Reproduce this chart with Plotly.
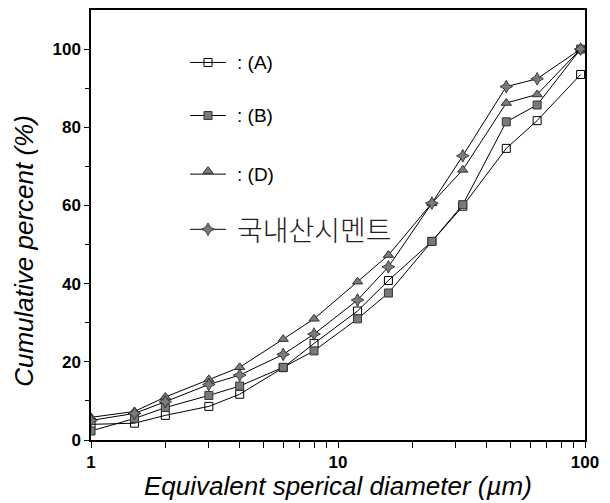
import plotly.graph_objects as go

# ---- data ----
diameter = [1, 1.5, 2, 3, 4, 6, 8, 12, 16, 24, 32, 48, 64, 96]
series_A = [4.0, 4.3, 6.3, 8.6, 11.7, 18.5, 24.7, 33.0, 40.8, 50.8, 59.8, 74.6, 81.7, 93.5]
series_B = [2.3, 5.5, 8.3, 11.4, 13.8, 18.6, 22.8, 31.0, 37.6, 50.8, 60.2, 81.4, 85.7, 100.0]
series_D = [5.8, 7.3, 11.0, 15.5, 18.6, 25.8, 31.0, 40.5, 47.3, 60.6, 69.1, 86.2, 88.4, 100.0]
series_K = [5.0, 6.8, 9.8, 14.2, 16.6, 21.9, 27.1, 35.8, 44.3, 60.6, 72.7, 90.4, 92.4, 100.0]
names = [": (A)", ": (B)", ": (D)", "국내산시멘트"]
y_ticks = [0, 20, 40, 60, 80, 100]
y_minor = [10, 30, 50, 70, 90]
x_ticks = [1, 10, 100]
x_minor = [2, 3, 4, 5, 6, 7, 8, 9, 20, 30, 40, 50, 60, 70, 80, 90]

GRAY = "#7a7a7a"
styles = [
    dict(symbol="square-open", size=8, color="black", line=dict(width=1, color="black")),
    dict(symbol="square", size=8, color=GRAY, line=dict(width=1, color="#333")),
    dict(symbol="triangle-up", size=9, color=GRAY, line=dict(width=1, color="#333")),
    dict(symbol="star-diamond", size=9, color=GRAY, line=dict(width=1, color="#333")),
]

fig = go.Figure()
for ys, st, nm in zip([series_A, series_B, series_D, series_K], styles, names):
    fig.add_trace(go.Scatter(x=diameter, y=ys, mode="lines+markers", name=nm,
                             line=dict(color="black", width=1), marker=st,
                             showlegend=False))

# ---- hand-made legend on an overlay axis (0..1 over the plot area) ----
leg_x0, leg_x1 = 0.2004, 0.2733
leg_rows = [0.878, 0.7546, 0.6183, 0.490]
leg_marker_dy = [0, 0, 0.007, 0]
for i, (st, nm) in enumerate(zip(styles, names)):
    yy = leg_rows[i]
    fig.add_trace(go.Scatter(x=[leg_x0, leg_x1], y=[yy, yy], mode="lines",
                             line=dict(color="black", width=1), xaxis="x2", yaxis="y2",
                             showlegend=False, hoverinfo="skip"))
    fig.add_trace(go.Scatter(x=[(leg_x0 + leg_x1) / 2], y=[yy + leg_marker_dy[i]], mode="markers",
                             marker=st, xaxis="x2", yaxis="y2", showlegend=False, hoverinfo="skip"))
    if i < 3:
        f = dict(family="Liberation Sans, Arial", size=19, color="black")
    else:
        f = dict(family="Noto Sans CJK KR", size=28, color="#222", weight=300)
    fig.add_annotation(x=0.2915, y=yy, xref="paper", yref="paper", text=nm,
                       showarrow=False, xanchor="left", yanchor="middle", font=f)

# axis titles
fig.add_annotation(x=0.5, y=0, xref="paper", yref="paper", yshift=-46,
                   text="<i>Equivalent sperical diameter (µm)</i>", showarrow=False,
                   xanchor="center", yanchor="middle",
                   font=dict(family="Liberation Sans, Arial", size=26, color="black"))
fig.add_annotation(x=0, y=0.44, xref="paper", yref="paper", xshift=-67,
                   text="<i>Cumulative percent (%)</i>", showarrow=False, textangle=-90,
                   xanchor="center", yanchor="middle",
                   font=dict(family="Liberation Sans, Arial", size=26, color="black"))

fig.update_layout(
    width=602, height=495,
    margin=dict(l=83, r=25, t=0, b=63),
    paper_bgcolor="white", plot_bgcolor="white",
    xaxis=dict(type="log", range=[0, 2], tickvals=x_ticks, ticktext=[str(v) for v in x_ticks],
               showgrid=False, zeroline=False, showline=True, linecolor="black", linewidth=1.5,
               mirror=True, ticks="outside", ticklen=6, tickwidth=1.2, tickcolor="black",
               minor=dict(tickvals=x_minor, ticks="outside", ticklen=6, tickwidth=1.2,
                          tickcolor="black", showgrid=False),
               tickfont=dict(family="Liberation Sans, Arial", size=17, color="black", weight="bold")),
    yaxis=dict(range=[0, 110], tickvals=y_ticks, showgrid=False, zeroline=False,
               showline=True, linecolor="black", linewidth=1.5, mirror=True,
               ticks="outside", ticklen=5, tickwidth=1.2, tickcolor="black",
               minor=dict(tickvals=y_minor, ticks="outside", ticklen=4,
                          tickwidth=1.2, tickcolor="black", showgrid=False),
               tickfont=dict(family="Liberation Sans, Arial", size=17, color="black", weight="bold")),
    xaxis2=dict(overlaying="x", range=[0, 1], visible=False, fixedrange=True),
    yaxis2=dict(overlaying="y", range=[0, 1], visible=False, fixedrange=True),
    showlegend=False,
)

fig.write_html("out.html")
